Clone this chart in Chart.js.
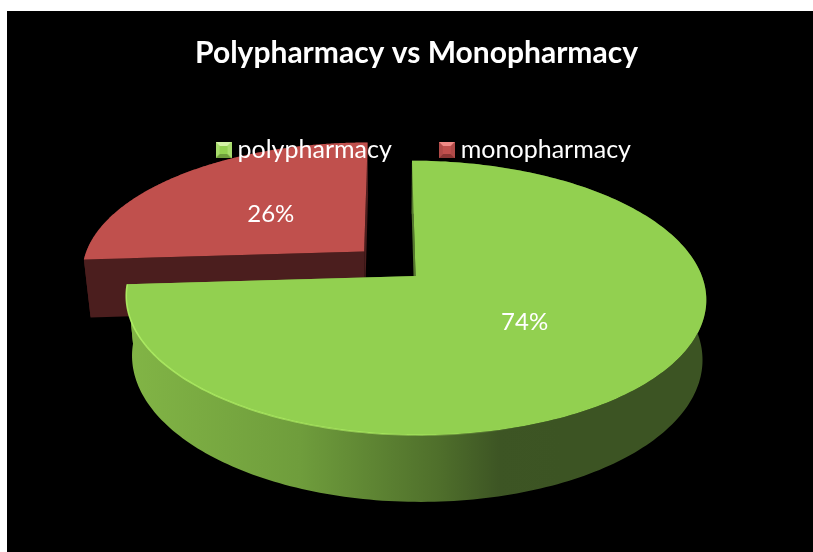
<!DOCTYPE html>
<html><head><meta charset="utf-8">
<style>
html,body{margin:0;padding:0;background:#fff;overflow:hidden;}
#box{position:absolute;left:7px;top:11px;width:806px;height:541px;background:#000;}
canvas{display:block;}
</style>
<script src="https://cdn.jsdelivr.net/npm/chart.js@4/dist/chart.umd.min.js"></script>
</head><body><div id="box"><canvas id="c" width="806" height="541"></canvas></div>
<script>
const categories = ['polypharmacy', 'monopharmacy'];
const shareValues = [74, 26];
const titleText = 'Polypharmacy vs Monopharmacy';
const topColors = ['#92d050', '#c0504d'];

// view used to tilt the library's arc angles into a 3D pie
const OX = 7, OY = 11, CX = 389.5, CY = 263.5, VY = -557.5, RX = 282, KP = 0.158, EXPLODE = 0.125;
const BY = (CY - VY) * KP;
function project(x, y) {
  const w = 1 - KP * y;
  return [CX + RX * x / w - OX, CY + BY * y / w - OY];
}
function drop(p) {
  const px = p[0] + OX, py = p[1] + OY;
  const sx = px > CX ? 0.988 : 0.978;
  return [CX + (px - CX) * sx - OX, py + 58 + (py - 259) * 0.05 - OY];
}

class Arc3D extends Chart.ArcElement {
  draw(ctx) {
    const { startAngle, endAngle } = this.getProps(['startAngle', 'endAngle']);
    const mid = (startAngle + endAngle) / 2;
    const ax = EXPLODE * Math.cos(mid), ay = EXPLODE * 1.1 * Math.sin(mid);
    const n = 240, rim = [];
    for (let i = 0; i <= n; i++) {
      const a = startAngle + (endAngle - startAngle) * i / n;
      rim.push(project(ax + Math.cos(a), ay + Math.sin(a)));
    }
    const apex = project(ax, ay);
    const low = rim.map(drop), lowApex = drop(apex);
    const isGreen = this.options.backgroundColor === topColors[0];
    let side = '#4b1e1e';
    if (isGreen) {
      side = ctx.createLinearGradient(126 - OX, 0, 560 - OX, 0);
      side.addColorStop(0, '#82b546');
      side.addColorStop(0.4, '#6f9d3c');
      side.addColorStop(0.72, '#4f6f2b');
      side.addColorStop(0.86, '#3d5524');
      side.addColorStop(1, '#3c5423');
    }
    ctx.save();
    ctx.fillStyle = side;
    const poly = pts => { ctx.beginPath(); pts.forEach((p, i) => i ? ctx.lineTo(p[0], p[1]) : ctx.moveTo(p[0], p[1])); ctx.closePath(); ctx.fill(); };
    poly(rim.concat(low.slice().reverse()));
    poly([apex, rim[0], low[0], lowApex]);
    poly([apex, rim[n], low[n], lowApex]);
    ctx.fillStyle = this.options.backgroundColor;
    poly([apex].concat(rim));
    if (isGreen) {
      const hl = ctx.createLinearGradient(126 - OX, 0, 520 - OX, 0);
      hl.addColorStop(0, 'rgba(176,240,100,0.9)');
      hl.addColorStop(0.7, 'rgba(176,240,100,0.6)');
      hl.addColorStop(1, 'rgba(176,240,100,0)');
      ctx.strokeStyle = hl;
      ctx.lineWidth = 1.6;
      ctx.beginPath();
      const from = Math.floor(n * 0.62);
      rim.slice(from).forEach((p, i) => i ? ctx.lineTo(p[0], p[1]) : ctx.moveTo(p[0], p[1]));
      ctx.stroke();
    }
    ctx.restore();
  }
}
Arc3D.id = 'arc3d';
Arc3D.defaults = Chart.ArcElement.defaults;
Arc3D.defaultRoutes = Chart.ArcElement.defaultRoutes;
Arc3D.descriptors = Chart.ArcElement.descriptors;

class Pie3D extends Chart.PieController {
  draw() {
    const els = this._cachedMeta.data, ctx = this._ctx;
    for (let i = els.length - 1; i >= 0; i--) els[i].draw(ctx, this.chart.chartArea);
  }
}
Pie3D.id = 'pie3d';
Pie3D.defaults = Object.assign({}, Chart.PieController.defaults, { dataElementType: 'arc3d' });
Pie3D.overrides = Chart.PieController.overrides;
Chart.register(Arc3D, Pie3D);

function marker(color, light, dark, mid) {
  const s = 16, c = document.createElement('canvas');
  c.width = c.height = s;
  const g = c.getContext('2d'), b = 4;
  const tri = (col, pts) => { g.fillStyle = col; g.beginPath(); pts.forEach((p, i) => i ? g.lineTo(p[0], p[1]) : g.moveTo(p[0], p[1])); g.closePath(); g.fill(); };
  g.fillStyle = color; g.fillRect(0, 0, s, s);
  tri(light, [[0, 0], [s, 0], [s - b, b], [b, b]]);
  tri(dark, [[0, s], [s, s], [s - b, s - b], [b, s - b]]);
  tri(mid, [[0, 0], [b, b], [b, s - b], [0, s]]);
  tri(mid, [[s, 0], [s - b, b], [s - b, s - b], [s, s]]);
  return c;
}
const markers = [
  marker('#92d050', '#d4f2a6', '#6f9d3c', '#a8dc6c'),
  marker('#c0504d', '#f08a86', '#8a3634', '#b04a48')
];
const lato = 'Lato';

const valueLabels = {
  id: 'valueLabels',
  afterDatasetsDraw(chart) {
    const ctx = chart.ctx, meta = chart.getDatasetMeta(0);
    const total = shareValues.reduce((a, b) => a + b, 0);
    ctx.save();
    ctx.fillStyle = '#fff';
    ctx.font = '24px ' + lato;
    ctx.textAlign = 'center';
    ctx.textBaseline = 'middle';
    meta.data.forEach((el, i) => {
      const { startAngle, endAngle } = el.getProps(['startAngle', 'endAngle']);
      const mid = (startAngle + endAngle) / 2, r = EXPLODE + 0.48;
      const p = project(r * Math.cos(mid), r * Math.sin(mid));
      ctx.fillText(Math.round(shareValues[i] / total * 100) + '%', p[0] + (i === 0 ? 2 : -2), p[1] + 1);
    });
    ctx.restore();
  }
};
const legendOnTop = {
  id: 'legendOnTop',
  beforeLayout(chart) {
    const lg = chart.legend;
    lg._layers = () => [{ z: 1, draw(area) { lg.draw(area); } }];
  },
  afterLayout(chart) { chart.legend.left += 10; chart.legend.right += 10; }
};

new Chart(document.getElementById('c'), {
  type: 'pie3d',
  data: {
    labels: categories,
    datasets: [{ data: shareValues, backgroundColor: topColors, borderWidth: 0 }]
  },
  plugins: [valueLabels, legendOnTop],
  options: {
    responsive: false,
    animation: false,
    layout: { padding: { left: 13, right: 0, top: 0, bottom: 0 } },
    plugins: {
      tooltip: { enabled: false },
      title: {
        display: true,
        text: titleText,
        color: '#fff',
        font: { family: lato, size: 30, weight: 'bold' },
        padding: { top: 24, bottom: 13 }
      },
      legend: {
        position: 'top',
        labels: {
          color: '#fff',
          font: { family: lato, size: 25 },
          usePointStyle: true,
          boxWidth: 3,
          boxHeight: 16,
          padding: 53.5,
          generateLabels(chart) {
            const base = Chart.PieController.overrides.plugins.legend.labels.generateLabels(chart);
            return base.map((l, i) => Object.assign({}, l, { pointStyle: markers[i], fontColor: '#fff' }));
          }
        }
      }
    }
  }
});
</script>
</body></html>
